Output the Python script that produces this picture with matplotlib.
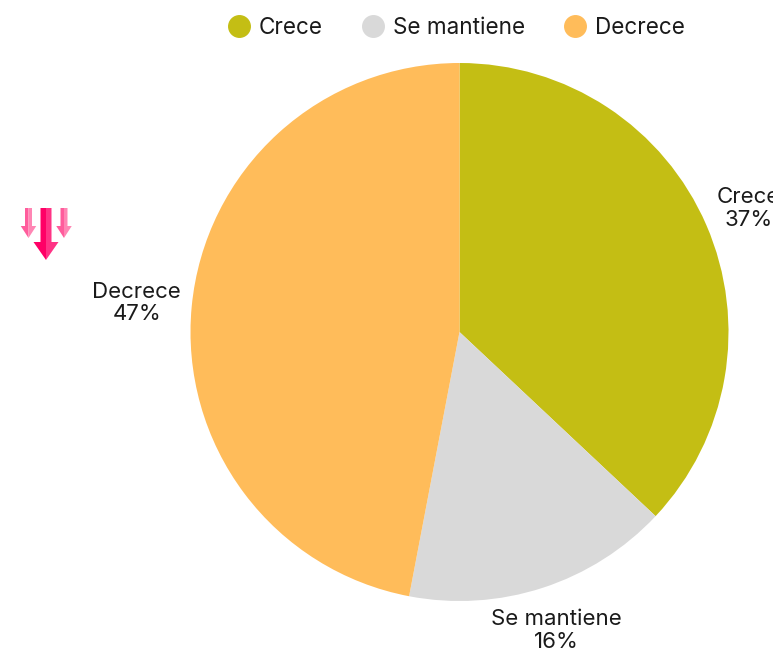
#!/usr/bin/env python3
import numpy as np
import matplotlib
matplotlib.use("Agg")
import matplotlib.pyplot as plt
from matplotlib.lines import Line2D
from matplotlib.patches import Polygon

plt.rcParams["font.family"] = ["Inter", "DejaVu Sans"]

categories = ["Crece", "Se mantiene", "Decrece"]
values = [37, 16, 47]
colors = ["#C4BE14", "#D9D9D9", "#FFBC5A"]
label_dist = [1.170, 1.160, 1.205]

W, H = 773, 651
fig = plt.figure(figsize=(W / 100, H / 100), dpi=100)
ax = fig.add_axes([0, 0, 1, 1])
ax.set_xlim(0, W)
ax.set_ylim(H, 0)
ax.axis("off")

# pie needs a y-up axes, so it gets its own overlay in pixel units
ax_pie = fig.add_axes([0, 0, 1, 1])
ax_pie.set_xlim(0, W)
ax_pie.set_ylim(0, H)
ax_pie.axis("off")
cx, cy, radius = 459.5, H - 332, 269
wedges, _ = ax_pie.pie(values, colors=colors, startangle=90, counterclock=False,
                       center=(cx, cy), radius=radius, frame=True)
ax_pie.set_xlim(0, W)
ax_pie.set_ylim(0, H)
ax_pie.set_aspect("auto")
ax_pie.axis("off")

for w, name, val, d in zip(wedges, categories, values, label_dist):
    a = np.deg2rad((w.theta1 + w.theta2) / 2)
    ax_pie.text(cx + d * radius * np.cos(a), cy + d * radius * np.sin(a) - 1.5,
                f"{name}\n{val}%", ha="center", va="center", fontsize=16,
                color="#1a1a1a", linespacing=1.18, clip_on=True)

handles = [Line2D([], [], marker="o", ls="none", ms=15.5, color=c) for c in colors]
ax.legend(handles, categories, loc="upper left", bbox_to_anchor=(207 / W, 1 + 3 / H),
          ncol=3, frameon=False, fontsize=16.2, handlelength=1.0, handletextpad=0.40,
          columnspacing=1.72, labelcolor="#1a1a1a")


def arrow(x, w_shaft, w_head, top, neck, tip, dark, light):
    # two halves give the shaded look of the icon
    ax.add_patch(Polygon([(x, top), (x - w_shaft / 2, top), (x - w_shaft / 2, neck),
                          (x - w_head / 2, neck), (x, tip)], fc=dark, ec="none"))
    ax.add_patch(Polygon([(x, top), (x + w_shaft / 2, top), (x + w_shaft / 2, neck),
                          (x + w_head / 2, neck), (x, tip)], fc=light, ec="none"))


arrow(28.5, 7, 15.5, 208, 226, 238, "#FF5C9C", "#FF86B4")
arrow(64, 7, 15.5, 208, 226, 238, "#FF5C9C", "#FF86B4")
arrow(46, 11, 25, 208, 242, 260, "#FF0066", "#FF3385")

fig.savefig("out.png", dpi=100)
